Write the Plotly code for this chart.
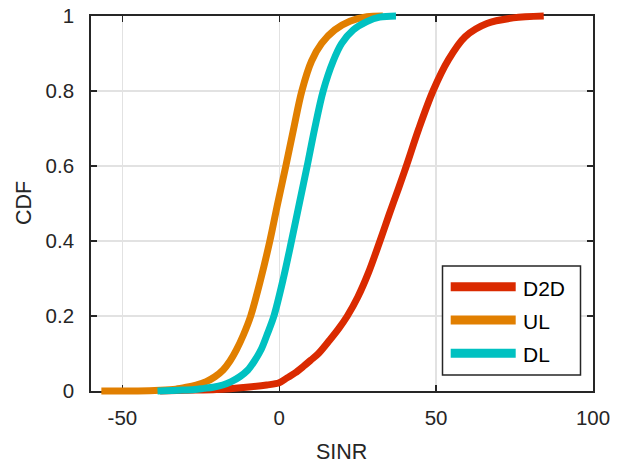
import plotly.graph_objects as go

# ---------------- data ----------------
series_names = ["D2D", "UL", "DL"]
series_colors = ["#DA2A00", "#E17F00", "#00C1C1"]

d2d_sinr = [-38, -30, -20, -10.5, -4, 0, 2.5, 5, 7.6, 10, 12.5, 16.1, 19, 21.7, 25, 28.5,
            32.1, 35, 38, 40.5, 44.5, 49, 53.9, 59.3, 66.2, 74.6, 84.3]
d2d_cdf = [0, 0.002, 0.004, 0.01, 0.016, 0.022, 0.035, 0.048, 0.065, 0.082, 0.1, 0.136,
           0.167, 0.2, 0.25, 0.317, 0.4, 0.47, 0.54, 0.6, 0.7, 0.8, 0.883, 0.945, 0.98, 0.995, 1.0]

ul_sinr = [-56.7, -45, -38, -33, -29.6, -26.5, -23.3, -20.5, -17.9, -15.7, -13.7, -11.4,
           -9.1, -6.0, -3.0, -0.5, 2.1, 4.6, 7.2, 10.3, 13.5, 17.7, 22.5, 27.9, 33]
ul_cdf = [0, 0, 0.002, 0.005, 0.01, 0.016, 0.025, 0.038, 0.056, 0.08, 0.109, 0.15,
          0.2, 0.295, 0.4, 0.5, 0.6, 0.7, 0.8, 0.88, 0.927, 0.963, 0.986, 0.998, 1.0]

dl_sinr = [-38.8, -32, -27, -24, -21.1, -18, -15.3, -12.6, -10.0, -7.9, -5.7, -3.8,
           -1.7, 1.3, 3.9, 6.4, 8.9, 11.3, 14.0, 17.2, 19.9, 23.6, 27.9, 32, 37.2]
dl_cdf = [0, 0.002, 0.004, 0.007, 0.01, 0.016, 0.025, 0.038, 0.056, 0.08, 0.112, 0.152,
          0.2, 0.3, 0.4, 0.5, 0.6, 0.7, 0.8, 0.88, 0.927, 0.963, 0.985, 0.997, 1.0]

x_ticks = [-50, 0, 50, 100]
x_tick_text = ["-50", "0", "50", "100"]
y_ticks = [0, 0.2, 0.4, 0.6, 0.8, 1.0]
y_tick_text = ["0", "0.2", "0.4", "0.6", "0.8", "1"]
x_title = "SINR"
y_title = "CDF"

# ---------------- layout geometry ----------------
W, H = 620, 464
OFF = 0  # page body margin is removed below
frame_l, frame_r, frame_t, frame_b = 91, 593, 16, 391  # target screen px
pad = 5  # extra room so thick lines at 0 and 1 are not clipped
m_l = frame_l - OFF
m_r = W - (frame_r - OFF)
m_t = frame_t - OFF - pad
m_b = H - (frame_b - OFF + pad)
plot_h = H - m_t - m_b
plot_w = W - m_l - m_r
d = pad / plot_h
e = d / (1 - 2 * d)

def px2paper_x(px):
    return (px - OFF - m_l) / plot_w

def py2paper_y(py):
    return (H - m_b - (py - OFF)) / plot_h

FONT = "Liberation Sans, Arial, sans-serif"
AXC = "#262626"
GRID = "#e2e2e2"

fig = go.Figure()

# dummy trace on the framed axes
fig.add_trace(go.Scatter(x=[None], y=[None], xaxis="x", yaxis="y",
                         showlegend=False, hoverinfo="skip"))

for name, col, xs, ys in zip(series_names, series_colors,
                             [d2d_sinr, ul_sinr, dl_sinr], [d2d_cdf, ul_cdf, dl_cdf]):
    fig.add_trace(go.Scatter(x=xs, y=ys, mode="lines", name=name,
                             line=dict(color=col, width=7, shape="spline", smoothing=0.9),
                             xaxis="x2", yaxis="y2", showlegend=False))

axis_common = dict(showline=True, linecolor=AXC, linewidth=1.8, mirror="ticks",
                   ticks="inside", ticklen=6, tickwidth=1.5, tickcolor=AXC,
                   showgrid=True, gridcolor=GRID, gridwidth=1.5, zeroline=False,
                   automargin=False, ticklabeloverflow="allow",
                   tickfont=dict(family=FONT, size=20.5, color=AXC))

fig.update_layout(
    width=W, height=H,
    margin=dict(l=m_l, r=m_r, t=m_t, b=m_b, autoexpand=False),
    paper_bgcolor="white",
    plot_bgcolor="rgba(0,0,0,0)",
    hovermode=False,
    xaxis=dict(domain=[0, 1], range=[-60, 100], tickvals=x_ticks, ticktext=x_tick_text,
               anchor="y", ticklabelstandoff=8, **axis_common),
    yaxis=dict(domain=[d, 1 - d], range=[0, 1], tickvals=y_ticks, ticktext=y_tick_text,
               anchor="x", ticklabelstandoff=11, **axis_common),
    xaxis2=dict(domain=[0, 1], range=[-60, 100], anchor="y2", visible=False, automargin=False),
    yaxis2=dict(domain=[0, 1], range=[-e, 1 + e], anchor="x2", visible=False, automargin=False),
    showlegend=False,
)

annotations = [
    dict(text=x_title, x=px2paper_x(341), y=py2paper_y(452), xref="paper", yref="paper",
         showarrow=False, xanchor="center", yanchor="middle",
         font=dict(family=FONT, size=21.5, color=AXC)),
    dict(text=y_title, x=px2paper_x(24), y=py2paper_y(203), xref="paper", yref="paper",
         showarrow=False, xanchor="center", yanchor="middle", textangle=-90,
         font=dict(family=FONT, size=21.5, color=AXC)),
]

# custom legend (long MATLAB-style swatches)
shapes = [dict(type="rect", xref="paper", yref="paper",
               x0=px2paper_x(442.5), x1=px2paper_x(580.5),
               y0=py2paper_y(375), y1=py2paper_y(266),
               line=dict(color=AXC, width=1.5), fillcolor="white", layer="above")]
leg_y = [286.7, 320, 353.3]
for name, col, ly in zip(series_names, series_colors, leg_y):
    shapes.append(dict(type="line", xref="paper", yref="paper",
                       x0=px2paper_x(450.7), x1=px2paper_x(515.7),
                       y0=py2paper_y(ly), y1=py2paper_y(ly),
                       line=dict(color=col, width=9), layer="above"))
    annotations.append(dict(text=name, x=px2paper_x(521), y=py2paper_y(ly + 1.5),
                            xref="paper", yref="paper", showarrow=False,
                            xanchor="left", yanchor="middle",
                            font=dict(family=FONT, size=21, color="#000000")))

fig.update_layout(shapes=shapes, annotations=annotations)

fig.write_html("out.html", config={"displayModeBar": False, "staticPlot": True},
               post_script="document.body.style.margin='0px';")
